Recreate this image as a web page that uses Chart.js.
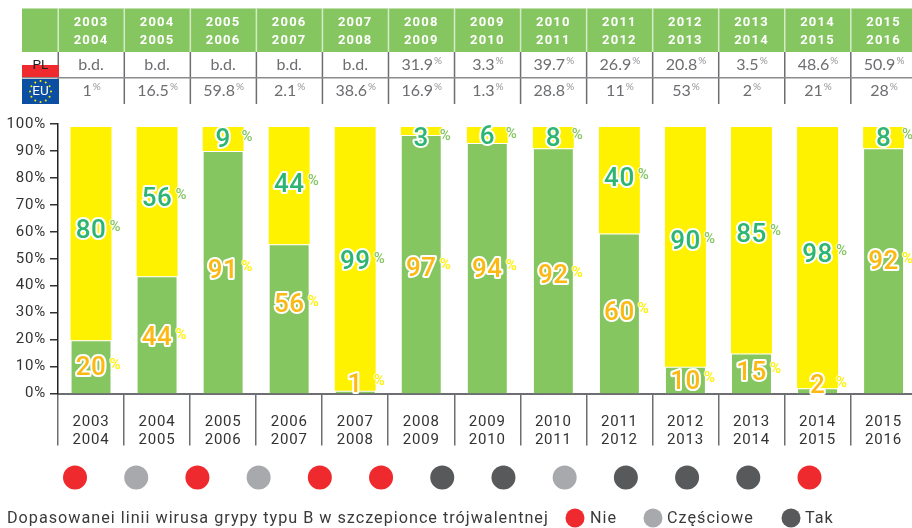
<!DOCTYPE html>
<html lang="pl">
<head>
<meta charset="utf-8">
<title>Dopasowanie szczepionki</title>
<script src="https://cdn.jsdelivr.net/npm/chart.js@4"></script>
<style>
html,body{margin:0;padding:0;background:#fff;width:912px;height:528px;overflow:hidden}
canvas{display:block}
</style>
</head>
<body>
<canvas id="c" width="930" height="528"></canvas>
<script>
const seasons = ["2003\n2004","2004\n2005","2005\n2006","2006\n2007","2007\n2008","2008\n2009","2009\n2010","2010\n2011","2011\n2012","2012\n2013","2013\n2014","2014\n2015","2015\n2016"];
const matched = [20,44,91,56,1,97,94,92,60,10,15,2,92];
const unmatched = [80,56,9,44,99,3,6,8,40,90,85,98,8];
const rowPL = ["b.d.","b.d.","b.d.","b.d.","b.d.","31.9","3.3","39.7","26.9","20.8","3.5","48.6","50.9"];
const rowEU = ["1","16.5","59.8","2.1","38.6","16.9","1.3","28.8","11","53","2","21","28"];
const lineageMatch = ["Nie","Częściowe","Nie","Częściowe","Nie","Nie","Tak","Tak","Częściowe","Tak","Tak","Tak","Nie"];
const yTicks = [0,10,20,30,40,50,60,70,80,90,100];
const legendNames = ["Nie","Częściowe","Tak"];
const legendTitle = "Dopasowanei linii wirusa grypy typu B w szczepionce trójwalentnej";

const GREEN="#85C661",YELLOW="#FFF200",RED="#EE2A2E",GREY="#A7A9AC",DARK="#58595B";
const statusColor={"Nie":RED,"Częściowe":GREY,"Tak":DARK};
const FONT='Roboto, "DejaVu Sans", sans-serif';

// pixel nudges of the value labels relative to their segment centre
const nudgeMatched=[2,4,-1,-13,-7,5,2,6,0,2,0,-4,-8];
const nudgeUnmatched=[-2,-2,2,0,4,9,3,2,-1,-4,-5,-2,2];

function labelText(ctx,num,pct,x,y,fill,pctFill){
  ctx.save();
  ctx.textAlign="center";ctx.textBaseline="middle";ctx.lineJoin="round";
  ctx.font="500 26px "+FONT;ctx.letterSpacing="0.5px";
  ctx.strokeStyle="#fff";ctx.lineWidth=4;
  ctx.strokeText(num,x,y);
  ctx.fillStyle=fill;ctx.fillText(num,x,y);
  ctx.font="500 15px "+FONT;ctx.letterSpacing="0px";
  ctx.lineWidth=2;ctx.strokeStyle="rgba(255,255,255,0.8)";
  ctx.strokeText(pct,x+24,y-4);
  ctx.fillStyle=pctFill;
  ctx.fillText(pct,x+24,y-4);
  ctx.restore();
}

const paintPlugin={
  id:"paint",
  beforeDraw(chart){
    const c=chart.ctx,xs=chart.scales.x;
    c.letterSpacing="0.8px";
    c.save();
    c.fillStyle=GREEN;c.fillRect(22,8,900,44);
    c.fillStyle="#BFE0AC";c.fillRect(22,8,900,1);
    const step=xs.getPixelForValue(1)-xs.getPixelForValue(0);
    seasons.forEach((s,i)=>{
      const cx=xs.getPixelForValue(i),lx=cx-step/2;
      c.fillStyle="#D5EBC8";c.fillRect(lx-0.5,8,1.5,44);
      c.fillStyle="#6D6E71";c.fillRect(lx-0.5,52,1.5,52);
      const p=s.split("\n");
      c.fillStyle="#fff";c.textAlign="center";c.textBaseline="middle";
      c.font="700 13px "+FONT;c.letterSpacing="1.2px";
      c.fillText(p[0],cx,22.5);c.fillText(p[1],cx,40.5);
      [[rowPL[i],64.5],[rowEU[i],90.5]].forEach(([t,y])=>{
        c.font="400 16px Lato, sans-serif";c.letterSpacing="0px";
        const w=c.measureText(t).width,bd=t==="b.d.";
        const sx=cx-(bd?0:4);
        c.fillStyle="#6D6E71";c.textAlign="center";
        c.fillText(t,sx,y);
        if(!bd){c.font="400 10px Lato, sans-serif";c.textAlign="left";c.fillStyle="#939598";c.fillText("%",sx+w/2+1,y-4);}
      });
    });
    c.fillStyle="#8A8B8D";c.fillRect(22,77,900,1.5);
    c.fillStyle=RED;c.fillRect(22,65,37,12);
    c.fillStyle="#0B4EA2";c.fillRect(22,79,37,25);
    c.fillStyle="#FFF200";
    for(let a=0;a<12;a++){const t=a*Math.PI/6;c.beginPath();c.arc(40.5+10.5*Math.cos(t),91.5+10.5*Math.sin(t),1,0,7);c.fill();}
    c.textAlign="center";c.textBaseline="middle";c.letterSpacing="0px";
    c.font="400 13.5px "+FONT;
    c.fillStyle="#231F20";c.fillText("PL",40.5,65.5);
    c.fillStyle="#fff";c.fillText("EU",40.5,91.5);
    c.restore();
    c.save();
    c.textAlign="left";c.textBaseline="middle";c.fillStyle="#3A3A3C";
    c.font="400 16.2px "+FONT;c.letterSpacing="1px";
    c.fillText(legendTitle,7,518.5);
    const dots=[575,653,791],texts=[590,667,805];
    legendNames.forEach((n,i)=>{
      c.fillStyle=statusColor[n];c.beginPath();c.arc(dots[i],518,9.5,0,7);c.fill();
      c.fillStyle="#3A3A3C";c.fillText(n,texts[i],518.5);
    });
    c.restore();
  },
  afterDatasetsDraw(chart){
    const c=chart.ctx,m0=chart.getDatasetMeta(0),m1=chart.getDatasetMeta(1),m2=chart.getDatasetMeta(2);
    matched.forEach((v,i)=>{
      const b0=m0.data[i],b1=m1.data[i];
      const y0=chart.scales.y.getPixelForValue(0);
      labelText(c,String(v),"%",b0.x,(b0.y+y0)/2+nudgeMatched[i],"#FDB913",YELLOW);
      labelText(c,String(unmatched[i]),"%",b1.x,(b1.y+b0.y)/2+nudgeUnmatched[i],"#2DB573",GREEN);
    });
    // the status dots sit below the plot area, so draw the library's point elements with a canvas-wide bound
    const all={left:0,top:0,right:chart.width,bottom:chart.height};
    m2.data.forEach(p=>p.draw(c,all));
  }
};

new Chart(document.getElementById("c"),{
  data:{
    labels:seasons.map(s=>s.split("\n")),
    datasets:[
      {type:"bar",label:"Dopasowane",data:matched,backgroundColor:GREEN,borderColor:"rgba(255,255,255,0.65)",borderWidth:1,stack:"s",xAxisID:"x",yAxisID:"y",order:2},
      {type:"bar",label:"Niedopasowane",data:unmatched,backgroundColor:YELLOW,borderWidth:0,stack:"s",xAxisID:"x",yAxisID:"y",order:2},
      {type:"scatter",label:"Linia B",stack:"s",data:lineageMatch.map((s,i)=>({x:i,y:-0.312})),
       pointRadius:12,pointHoverRadius:12,pointBorderWidth:0,
       pointBackgroundColor:lineageMatch.map(s=>statusColor[s]),
       xAxisID:"xd",yAxisID:"yd",clip:false,order:1}
    ]
  },
  options:{
    responsive:false,animation:false,
    layout:{padding:{top:124,left:0,right:13.4,bottom:0}},
    datasets:{bar:{barPercentage:0.62,categoryPercentage:1,grouped:false}},
    plugins:{legend:{display:false},tooltip:{enabled:false}},
    scales:{
      x:{type:"category",offset:true,stacked:true,position:"bottom",
        afterFit(s){s.height=134.5;},
        border:{display:true,color:"#6D6E71",width:2},
        grid:{offset:true,drawOnChartArea:false,drawTicks:true,tickLength:52,tickColor:"#6D6E71",lineWidth:1.5},
        ticks:{color:"#333",font:{family:FONT,size:15},padding:-32,maxRotation:0,autoSkip:false,align:"center"}},
      y:{type:"linear",stacked:true,min:0,max:101.1,display:false},
      y2:{type:"linear",position:"left",min:0,max:100,
        afterFit(s){s.width=58;},
        afterBuildTicks(s){s.ticks=yTicks.map(v=>({value:v}));},
        border:{display:true,color:"#222",width:1.5},
        grid:{drawOnChartArea:false,drawTicks:true,tickLength:8,tickColor:"#333",lineWidth:1.5},
        ticks:{color:"#333",font:{family:FONT,size:15},padding:4,callback:v=>v+"%"}},
      xd:{type:"linear",display:false,min:-0.278,max:13.75},
      yd:{type:"linear",display:false,min:0,max:1}
    }
  },
  plugins:[paintPlugin]
});
</script>
</body>
</html>
